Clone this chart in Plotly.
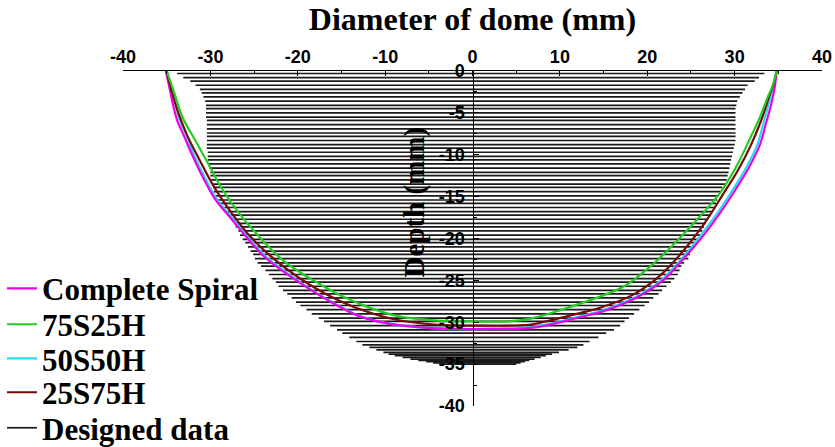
import plotly.graph_objects as go

# ---------------- data ----------------
# Complete Spiral (magenta)
cs_x = [-35.1, -34.7, -34.3, -33.8, -33.0, -32.0, -30.9, -29.4, -27.8, -25.9, -24.0, -22.1,
        -19.0, -16.0, -12.9, -9.9, -6.0, -2.0, 2.0, 6.5, 8.8, 12.3, 14.9, 18.7, 21.8, 24.0,
        26.0, 28.3, 30.2, 31.7, 32.9, 33.6, 34.2, 34.6, 34.8]
cs_d = [0.0, -1.9, -3.9, -5.9, -7.8, -10.2, -12.6, -15.4, -17.4, -19.8, -22.0, -23.6,
        -25.8, -27.7, -29.3, -30.1, -30.6, -30.8, -30.8, -30.7, -30.3, -29.4, -28.7, -27.1, -25.0, -22.6,
        -20.2, -17.0, -14.0, -11.4, -8.8, -6.2, -3.9, -1.9, 0.0]

# 75S25H (green)
g_x = [-35.0, -34.1, -33.2, -32.0, -30.5, -28.6, -26.7, -24.4, -21.7, -17.9, -14.9, -11.4,
       -8.4, -4.0, 0.0, 4.0, 6.5, 9.0, 12.8, 17.2, 20.3, 23.3, 26.0, 28.3, 30.2, 31.7, 32.9,
       33.8, 34.4, 34.8]
g_d = [0.0, -2.7, -5.5, -7.8, -10.6, -14.2, -17.0, -19.8, -22.6, -25.2, -26.9, -28.4,
       -29.3, -29.8, -29.9, -29.9, -29.6, -28.9, -27.6, -25.8, -23.4, -20.4, -17.4, -14.6, -11.4, -8.2, -5.5,
       -3.1, -1.6, 0.0]

# 50S50H (cyan)
c_x = [-35.0, -34.5, -34.0, -33.5, -32.7, -31.8, -30.7, -29.2, -27.6, -25.7, -23.8, -21.9,
       -18.9, -15.9, -12.8, -9.8, -6.0, -2.0, 2.0, 6.5, 8.8, 12.3, 14.8, 18.6, 21.6, 23.8,
       25.7, 28.0, 29.9, 31.4, 32.6, 33.3, 33.9, 34.4, 34.8]
c_d = [0.0, -1.9, -3.9, -5.9, -7.8, -10.2, -12.6, -15.4, -17.4, -19.8, -22.0, -23.6,
       -25.8, -27.7, -29.3, -30.1, -30.6, -30.8, -30.8, -30.6, -30.2, -29.3, -28.6, -27.0, -25.0, -22.6,
       -20.2, -17.0, -14.0, -11.4, -8.8, -6.2, -3.9, -1.9, 0.0]

# 25S75H (dark red)
r_x = [-35.0, -34.4, -33.6, -32.6, -31.3, -29.6, -27.6, -25.4, -23.0, -20.0, -17.0, -13.5,
       -8.7, -4.0, 0.0, 6.5, 8.8, 12.3, 14.5, 18.4, 21.4, 24.1, 26.8, 28.5, 30.3, 31.8, 33.0,
       33.9, 34.5, 34.8]
r_d = [0.0, -2.5, -5.2, -7.8, -10.5, -13.8, -16.9, -19.8, -22.2, -24.6, -26.5, -28.2,
       -29.7, -30.3, -30.4, -30.3, -29.8, -28.9, -28.3, -26.7, -24.5, -21.5, -17.8, -15.0, -12.0, -9.0, -6.0,
       -3.2, -1.4, 0.0]

# Designed data: depth of each horizontal line and its left / right ends
des_d = [-0.3, -0.8, -1.2, -1.7, -2.2, -2.6, -3.1, -3.6, -4.1, -4.5, -5.0, -5.5, -5.9, -6.4,
         -6.9, -7.4, -7.8, -8.3, -8.8, -9.2, -9.7, -10.2, -10.6, -11.1, -11.6, -12.1, -12.5,
         -13.0, -13.5, -13.9, -14.4, -14.9, -15.4, -15.8, -16.3, -16.8, -17.2, -17.7, -18.2,
         -18.6, -19.1, -19.6, -20.1, -20.5, -21.0, -21.5, -21.9, -22.4, -22.9, -23.3, -23.8,
         -24.3, -24.8, -25.2, -25.7, -26.2, -26.6, -27.1, -27.6, -28.0, -28.5, -29.0, -29.5,
         -29.9, -30.4, -30.9, -31.3, -31.8, -32.3, -32.7, -33.0, -33.3, -33.6, -33.8, -34.0,
         -34.2, -34.4, -34.55, -34.7, -34.85, -35.0]
des_left = [-33.8, -33.1, -32.3, -31.7, -31.2, -31.0, -30.8, -30.6, -30.5, -30.5, -30.5, -30.5,
            -30.4, -30.4, -30.4, -30.4, -30.4, -30.4, -30.4, -30.4, -30.3, -30.3, -30.3, -30.2,
            -30.1, -30.0, -30.0, -29.9, -29.8, -29.7, -29.6, -29.4, -29.2, -29.0, -28.7, -28.3,
            -28.0, -27.6, -27.3, -27.1, -26.8, -26.6, -26.3, -26.0, -25.7, -25.4, -25.1, -24.9,
            -24.6, -24.2, -23.7, -23.3, -22.9, -22.5, -22.2, -21.7, -21.2, -20.7, -20.2, -19.7,
            -19.0, -18.4, -17.6, -17.0, -16.3, -15.5, -14.9, -14.1, -13.3, -12.6, -11.8, -11.0,
            -10.2, -9.6, -8.9, -8.0, -7.1, -6.2, -5.3, -4.5, -3.8]
des_right = [33.4, 32.8, 32.3, 31.5, 31.2, 30.9, 30.6, 30.3, 30.2, 30.1, 30.1, 30.1, 30.1, 30.1,
             30.1, 30.1, 30.1, 30.1, 30.0, 29.9, 29.8, 29.7, 29.6, 29.5, 29.4, 29.3, 29.2, 29.1,
             28.9, 28.6, 28.4, 28.2, 28.0, 27.9, 27.7, 27.4, 27.2, 26.9, 26.7, 26.5, 26.3, 26.1,
             25.8, 25.6, 25.2, 25.0, 24.9, 24.7, 24.2, 23.9, 23.7, 23.5, 23.1, 22.7, 22.2, 21.7,
             21.3, 20.7, 20.2, 19.7, 19.1, 18.5, 17.9, 17.4, 16.9, 16.2, 15.3, 14.4, 13.4, 12.7,
             12.0, 11.0, 9.9, 9.1, 8.4, 7.8, 7.1, 6.5, 6.0, 5.5, 5.0]

x_ticks = [-40, -30, -20, -10, 0, 10, 20, 30, 40]
x_labels = ["-40", "-30", "-20", "-10", "0", "10", "20", "30", "40"]
y_ticks = [0, -5, -10, -15, -20, -25, -30, -35, -40]
y_labels = ["0", "-5", "-10", "-15", "-20", "-25", "-30", "-35", "-40"]

# ---------------- figure ----------------
serif = "Liberation Serif, Times New Roman, serif"
sans = "Liberation Sans, Arial, sans-serif"

des_x, des_y = [], []
for d, xl, xr in zip(des_d, des_left, des_right):
    des_x += [xl, xr, None]
    des_y += [d, d, None]

fig = go.Figure()
fig.add_trace(go.Scatter(x=des_x, y=des_y, mode="lines", name="Designed data",
                         line=dict(color="#1a1a1a", width=1.7), legend="legend5"))
fig.add_trace(go.Scatter(x=c_x, y=c_d, mode="lines", name="50S50H", line_shape="spline",
                         line=dict(color="#22DDEE", width=2.2), legend="legend3"))
fig.add_trace(go.Scatter(x=cs_x, y=cs_d, mode="lines", name="Complete Spiral", line_shape="spline",
                         line=dict(color="#EE00EE", width=2.2), legend="legend"))
fig.add_trace(go.Scatter(x=r_x, y=r_d, mode="lines", name="25S75H", line_shape="spline",
                         line=dict(color="#7A0A0A", width=2.2), legend="legend4"))
fig.add_trace(go.Scatter(x=g_x, y=g_d, mode="lines", name="75S25H", line_shape="spline",
                         line=dict(color="#22CC22", width=2.2), legend="legend2"))

leg_font = dict(family=serif, size=31, color="black", weight="bold")
def leg(ypos):
    return dict(x=-0.1731, y=ypos, xanchor="left", yanchor="middle", font=leg_font,
                bgcolor="rgba(0,0,0,0)", itemwidth=30)

fig.update_layout(
    width=835, height=447,
    margin=dict(l=123, r=13, t=71, b=41, autoexpand=False),
    paper_bgcolor="white", plot_bgcolor="white",
    showlegend=True,
    legend=leg(0.350), legend2=leg(0.243), legend3=leg(0.141), legend4=leg(0.040),
    legend5=leg(-0.066),
    xaxis=dict(range=[-40, 40], side="top", tickvals=x_ticks, ticktext=x_labels, ticks="inside",
               ticklen=5, tickwidth=1.3, tickcolor="black", showline=True, linecolor="black",
               linewidth=1.3, showgrid=False, zeroline=False,
               minor=dict(dtick=5, tick0=0, ticks="inside", ticklen=3, tickcolor="black", tickwidth=1.2),
               tickfont=dict(family=sans, size=18, color="black", weight="bold"),
               ticklabelstandoff=0,
               title=dict(text="Diameter of dome (mm)", standoff=6,
                          font=dict(family=serif, size=32, color="black", weight="bold"))),
    yaxis=dict(range=[-40, 0], anchor="free", position=0.5, tickvals=y_ticks, ticktext=y_labels,
               ticks="inside", ticklen=5, tickwidth=1.3, tickcolor="black", showline=True,
               linecolor="black", linewidth=1.3, showgrid=False, zeroline=False,
               minor=dict(dtick=2.5, tick0=0, ticks="inside", ticklen=3, tickcolor="black", tickwidth=1.2),
               tickfont=dict(family=sans, size=18, color="black", weight="bold"),
               ticklabelstandoff=4),
    annotations=[dict(text="Depth (mm)", textangle=-90, x=-6.6, y=-15.6, xref="x", yref="y",
                      showarrow=False, xanchor="center", yanchor="middle",
                      font=dict(family=serif, size=29, color="black", weight="bold"))],
)

fig.write_html("out.html", config={"displayModeBar": False},
               post_script="document.body.style.margin='0';")
